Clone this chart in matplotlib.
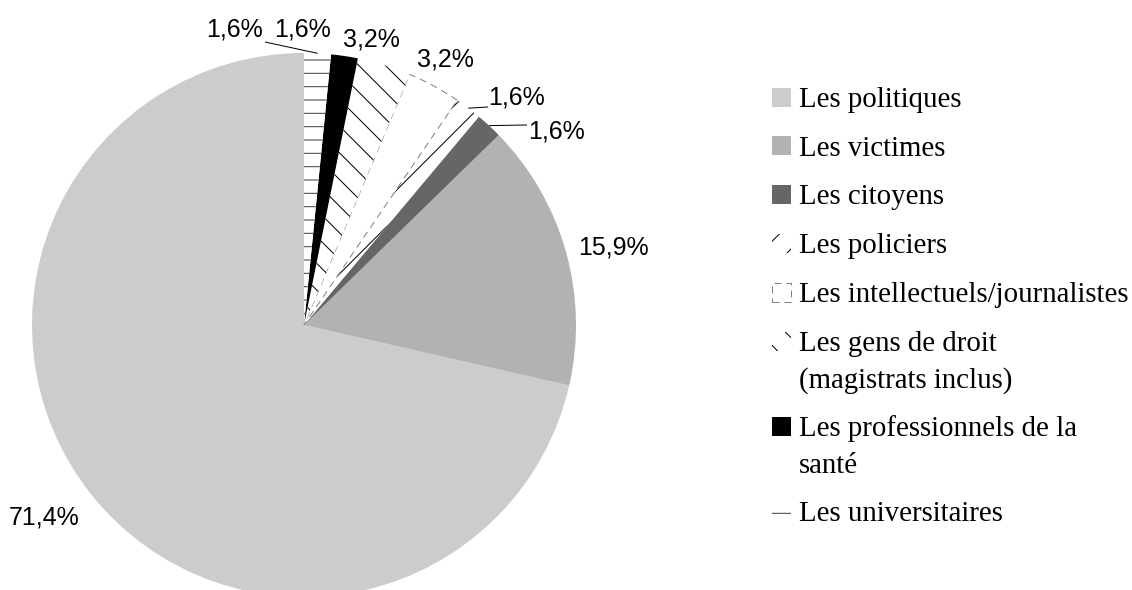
import numpy as np
import matplotlib
matplotlib.use("Agg")
import matplotlib.pyplot as plt
from matplotlib.patches import Rectangle

# ---- data ----
categories = ["Les politiques", "Les victimes", "Les citoyens", "Les policiers",
              "Les intellectuels/journalistes", "Les gens de droit\n(magistrats inclus)",
              "Les professionnels de la\nsanté", "Les universitaires"]
counts = [45, 10, 1, 1, 2, 2, 1, 1]

# ---- styles ----
face = ["#cccccc", "#b2b2b2", "#666666", "white", "white", "white", "black", "white"]
edge = ["none", "none", "none", "black", "#808080", "black", "none", "#404040"]
hatch = [None, None, None, "/", None, "\\", None, "-"]
lw = [0, 0, 0, 0, 0.9, 0, 0, 0]
ls = ["solid", "solid", "solid", "solid", (0, (7, 5)), "solid", "solid", "solid"]

W, H, DPI = 1132, 590, 80
plt.rcParams["hatch.linewidth"] = 0.9

fig = plt.figure(figsize=(W / DPI, H / DPI), dpi=DPI)
ax = fig.add_axes([0, 0, 1, 1])

def iy(y):  # image-y (from top) to data-y
    return H - y

cx, cy, R = 304, iy(325), 272
wedges, _ = ax.pie(counts, startangle=90, counterclock=True, center=(cx, cy),
                   radius=R, frame=True)
for w, fc, ec, h, l, s in zip(wedges, face, edge, hatch, lw, ls):
    w.set_facecolor(fc)
    w.set_edgecolor(ec)
    w.set_hatch(h)
    w.set_linewidth(l)
    w.set_linestyle(s)

ax.set_xlim(0, W)
ax.set_ylim(0, H)
ax.set_aspect("equal")
ax.axis("off")

total = sum(counts)
pct = [f"{100 * c / total:.1f}%".replace(".", ",") for c in counts]

# label layout (image px)
lab_pos = [(44, 517), (613, 248), (556, 132), (517, 98), (445, 60), (371, 39), (303, 29), (234, 29)]
leader_start = {2: (527, 125), 3: (488, 107), 7: (265, 42)}

for i, (t, (x, y)) in enumerate(zip(pct, lab_pos)):
    ax.text(x, iy(y), t, ha="center", va="center", fontsize=22.5,
            family="Liberation Sans", color="black")
    if i in leader_start:
        w = wedges[i]
        th = np.deg2rad((w.theta1 + w.theta2) / 2)
        ex, ey = cx + R * np.cos(th), cy + R * np.sin(th)
        sx, sy = leader_start[i]
        ax.plot([sx, ex], [iy(sy), ey], color="black", lw=0.9, solid_capstyle="butt")

# ---- legend (manual, first line aligned with the key) ----
lx, box, gap, line_h = 772, 19, 8, 36.5
y = 97.0
for name, fc, ec, h, l, s in zip(categories, face, edge, hatch, lw, ls):
    ax.add_patch(Rectangle((lx, iy(y) - box / 2), box, box, facecolor=fc,
                           edgecolor=ec, hatch=h, linewidth=l, linestyle=s))
    lines = name.split("\n")
    for k, line in enumerate(lines):
        ax.text(lx + box + gap, iy(y + 9.7 + k * line_h), line, ha="left", va="baseline",
                family="Liberation Serif", fontsize=26)
    y += 48.8 + line_h * (len(lines) - 1)

fig.savefig("out.png", dpi=DPI)
